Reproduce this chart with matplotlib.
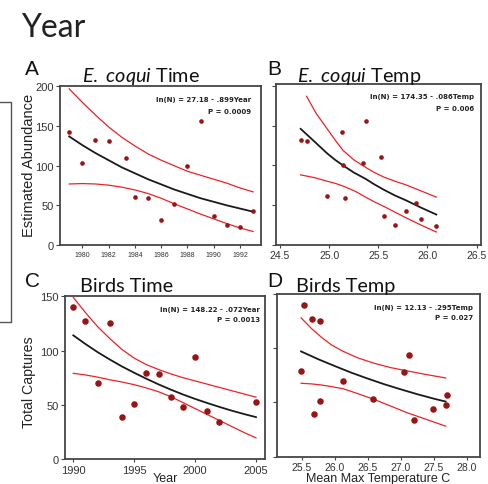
import matplotlib
matplotlib.use("Agg")
import matplotlib.pyplot as plt
from matplotlib.lines import Line2D

# ---------------- data ----------------
# Panel A: E. coqui abundance vs year
a_year = [1979, 1980, 1981, 1982, 1983.3, 1984, 1985, 1986, 1987, 1988, 1989, 1990, 1991, 1992, 1993]
a_abund = [142, 103, 132, 131, 110, 61, 59, 32, 52, 100, 156, 36, 25, 23, 43]
a_fit_x = [1979, 1980, 1981, 1982, 1983, 1984, 1985, 1986, 1987, 1988, 1989, 1990, 1991, 1992, 1993]
a_fit = [137, 126, 116, 107, 98, 90.5, 83, 76.5, 70, 64.5, 59, 54.5, 50, 46, 42]
a_up = [197, 180, 164, 149, 136, 125, 115, 107, 100, 93, 88, 83, 78, 72, 67]
a_lo = [77, 77.5, 77, 75.5, 73, 69.5, 65, 59, 52, 45.5, 39, 33, 27, 21.5, 17]

# Panel B: E. coqui abundance vs temperature
b_temp = [24.71, 24.77, 24.98, 25.13, 25.14, 25.16, 25.34, 25.37, 25.53, 25.56, 25.67, 25.78, 25.88, 25.93, 26.09]
b_abund = [132, 131, 61, 142, 100, 59, 103, 156, 110, 36, 25, 43, 52, 32, 23]
b_fit_x = [24.71, 24.85, 24.98, 25.06, 25.14, 25.25, 25.37, 25.46, 25.56, 25.67, 25.78, 25.93, 26.09]
b_fit = [146, 130, 115, 107, 100, 91, 83, 76, 69, 62, 56, 47, 38]
b_up_x = [24.77, 24.87, 24.98, 25.06, 25.14, 25.25, 25.37, 25.46, 25.56, 25.67, 25.78, 25.93, 26.09]
b_up = [187, 165, 146, 132, 119, 107, 97.5, 91, 85, 80, 75.5, 68, 60]
b_lo_x = [24.71, 24.85, 24.98, 25.07, 25.16, 25.27, 25.37, 25.46, 25.56, 25.67, 25.78, 25.93, 26.09]
b_lo = [88, 84.5, 80, 77, 73, 67, 60, 54, 48, 41, 34, 25, 16]

# Panel C: bird captures vs year
c_year = [1990, 1991, 1992, 1993, 1994, 1995, 1996, 1997, 1998, 1999, 2000, 2001, 2002, 2005]
c_capt = [140, 127, 70, 125, 39, 51, 79, 78, 57, 48, 94, 44, 34, 53]
c_fit_x = [1990, 1991, 1992, 1993, 1994, 1995, 1996, 1997, 1998, 1999, 2000, 2001, 2002, 2003, 2004, 2005]
c_fit = [114, 106, 98.5, 91.7, 85.3, 79.5, 74, 68.8, 64, 59.5, 55.4, 51.6, 48, 44.6, 41.5, 38.6]
c_up = [149, 135, 122, 111, 101, 93, 87, 82.5, 78.5, 75, 72, 69, 66, 63, 60, 57]
c_lo = [79, 77.5, 75.5, 73, 71, 68.5, 65.5, 62, 57.5, 52, 46.5, 41, 35.5, 30, 24.5, 19.5]

# Panel D: bird captures vs temperature
d_temp = [25.54, 25.66, 26.13, 25.78, 25.69, 25.78, 25.49, 27.05, 27.70, 27.68, 27.13, 27.49, 27.20, 26.58]
d_capt = [140, 127, 70, 125, 39, 51, 79, 78, 57, 48, 94, 44, 34, 53]
d_fit_x = [25.49, 25.75, 26.0, 26.25, 26.5, 26.75, 27.0, 27.25, 27.5, 27.68]
d_fit = [97, 89.8, 83.5, 77.4, 71.9, 66.7, 62, 57.5, 53.4, 50.7]
d_band_x = [25.49, 25.65, 25.8, 25.95, 26.13, 26.35, 26.6, 26.85, 27.1, 27.4, 27.68]
d_up = [128, 118, 110, 103, 97, 91, 86, 82, 79, 75.5, 72.5]
d_lo = [67.6, 67, 66, 64.5, 62.5, 58, 52.6, 46.5, 40.3, 34, 28]

a_xticks = [1980, 1982, 1984, 1986, 1988, 1990, 1992]
ab_yticks = [0, 50, 100, 150, 200]
b_xticks = [24.5, 25.0, 25.5, 26.0, 26.5]
c_xticks = [1990, 1995, 2000, 2005]
cd_yticks = [0, 50, 100, 150]
d_xticks = [25.5, 26.0, 26.5, 27.0, 27.5, 28.0]

# ---------------- style ----------------
W, H = 489, 485
plt.rcParams['font.family'] = ['Liberation Sans', 'DejaVu Sans']
plt.rcParams['mathtext.fontset'] = 'custom'
plt.rcParams['mathtext.it'] = 'Lato:italic'
plt.rcParams['mathtext.rm'] = 'Lato'

SPINE = '#454545'
TICKC = '#333333'
PT_C = '#981515'
RED = '#ec2228'
BLK = '#1a1a1a'

fig = plt.figure(figsize=(W / 100, H / 100), dpi=100)


def px(x, y):
    return x / W, 1 - y / H


def make_ax(l, r, t, b):
    return fig.add_axes([l / W, 1 - b / H, (r - l) / W, (b - t) / H])


def style(ax, xfs, yfs, ylabels=True):
    for s in ax.spines.values():
        s.set_color(SPINE)
        s.set_linewidth(1.3)
    ax.tick_params(axis='x', length=2, width=0.8, color=SPINE, labelsize=xfs,
                   labelcolor=TICKC, pad=2)
    ax.tick_params(axis='y', length=3, width=0.8, color=SPINE, labelsize=yfs,
                   labelcolor=TICKC, pad=1.5, labelleft=ylabels)


def panel(ax, x, y, fx, fy, ux, uy, lx, ly, ms):
    ax.plot(ux, uy, color=RED, lw=0.9, zorder=2)
    ax.plot(lx, ly, color=RED, lw=0.9, zorder=2)
    ax.plot(fx, fy, color=BLK, lw=1.3, zorder=3)
    ax.scatter(x, y, s=ms, color=PT_C, zorder=4, linewidths=0)


# Panel A
axA = make_ax(60, 261, 86.7, 246)
panel(axA, a_year, a_abund, a_fit_x, a_fit, a_fit_x, a_up, a_fit_x, a_lo, 11)
axA.set_xlim(1978.3, 1993.6)
axA.set_ylim(0, 201)
axA.set_xticks(a_xticks)
axA.set_yticks(ab_yticks)
style(axA, 5, 8)

# Panel B
axB = make_ax(275.7, 481, 85, 245.7)
panel(axB, b_temp, b_abund, b_fit_x, b_fit, b_up_x, b_up, b_lo_x, b_lo, 11)
axB.set_xlim(24.456, 26.545)
axB.set_ylim(0, 202.5)
axB.set_xticks(b_xticks)
axB.set_xticklabels([f"{v:.1f}" for v in b_xticks])
axB.set_yticks(ab_yticks)
style(axB, 7.5, 8, ylabels=False)

# Panel C
axC = make_ax(65, 265, 297.3, 460)
panel(axC, c_year, c_capt, c_fit_x, c_fit, c_fit_x, c_up, c_fit_x, c_lo, 22)
axC.set_xlim(1989.32, 2005.74)
axC.set_ylim(0, 150)
axC.set_xticks(c_xticks)
axC.set_yticks(cd_yticks)
style(axC, 8, 8)

# Panel D
axD = make_ax(276.7, 480, 295, 457.5)
panel(axD, d_temp, d_capt, d_fit_x, d_fit, d_band_x, d_up, d_band_x, d_lo, 22)
axD.set_xlim(25.121, 28.2)
axD.set_ylim(0, 150)
axD.set_xticks(d_xticks)
axD.set_xticklabels([f"{v:.1f}" for v in d_xticks])
axD.set_yticks(cd_yticks)
style(axD, 7.5, 8, ylabels=False)

# ---------------- texts ----------------
fig.text(*px(21, 36.7), "Year", fontsize=23, family='Lato', color='#222222',
         ha='left', va='baseline')

for lab, (x, y) in zip("ABCD", [(25, 75), (267, 75), (25, 287), (267, 287)]):
    fig.text(*px(x, y), lab, fontsize=15, color='#111111', ha='left', va='baseline')

titles = [(r"$\mathit{E.\ coqui}$ Time", 81.7, 82),
          (r"$\mathit{E.\ coqui}$ Temp", 296.7, 82),
          ("Birds Time", 80, 292),
          ("Birds Temp", 296, 292)]
for t, x, y in titles:
    fig.text(*px(x, y), t, fontsize=14.3, family='Lato', color='#111111',
             ha='left', va='baseline')

eqs = [("ln(N) = 27.18 - .899Year", "P = 0.0009", 251, 100, 111.7),
       ("ln(N) = 174.35 - .086Temp", "P = 0.006", 474, 97.3, 109.3),
       ("ln(N) = 148.22 - .072Year", "P = 0.0013", 260, 310, 320.5),
       ("ln(N) = 12.13 - .295Temp", "P = 0.027", 472.7, 308.3, 318.5)]
for e1, e2, xr, y1, y2 in eqs:
    fig.text(*px(xr, y1), e1, fontsize=5, family='DejaVu Sans', weight='bold',
             color='#222222', ha='right', va='center')
    fig.text(*px(xr, y2), e2, fontsize=5, family='DejaVu Sans', weight='bold',
             color='#222222', ha='right', va='center')

fig.text(*px(29.5, 165), "Estimated Abundance", fontsize=10.5, rotation=90,
         color='#222222', ha='center', va='center')
fig.text(*px(29.5, 382), "Total Captures", fontsize=10.2, rotation=90,
         color='#222222', ha='center', va='center')
fig.text(*px(165, 482.5), "Year", fontsize=9, color='#222222', ha='center', va='baseline')
fig.text(*px(378, 482), "Mean Max Temperature C", fontsize=9, color='#222222',
         ha='center', va='baseline')

# partial box at left edge
box_x = [0, 11, 11, 0]
box_y = [103.3, 103.3, 323, 323]
fig.add_artist(Line2D([x / W for x in box_x], [1 - y / H for y in box_y],
                      color='#555555', lw=1.0))

fig.savefig("out.png", dpi=100)
